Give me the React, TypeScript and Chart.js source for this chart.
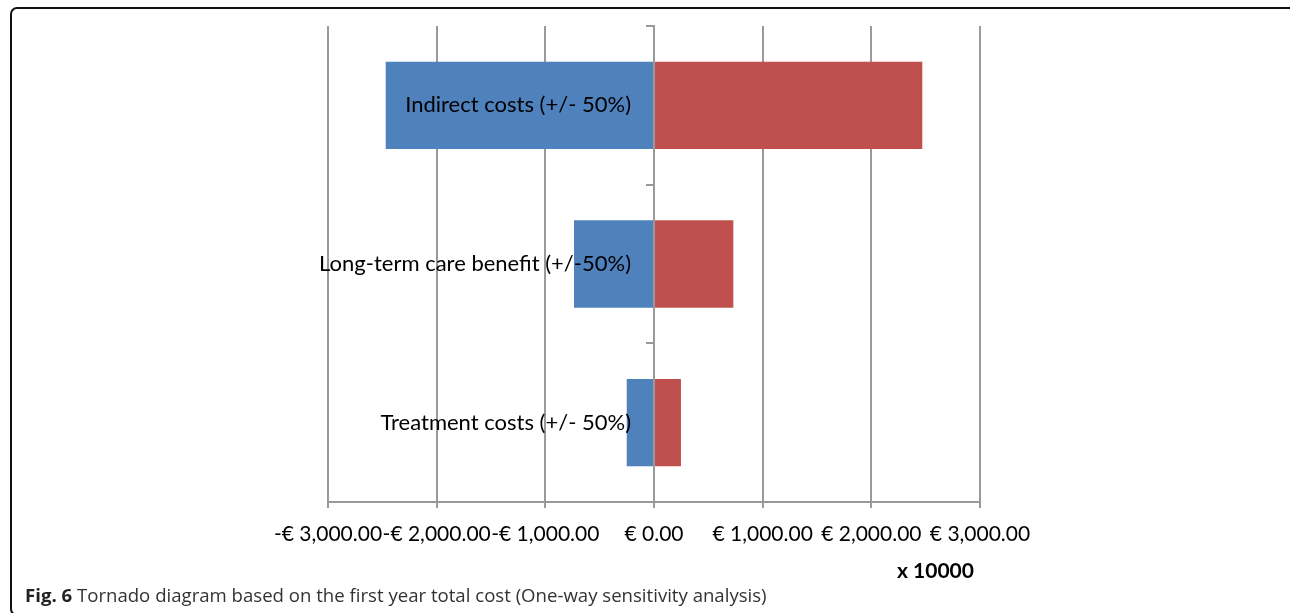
import React, { useEffect, useRef } from "react";
import { Chart, registerables } from "chart.js";

Chart.register(...registerables);

const categories = [
  "Indirect costs (+/- 50%)",
  "Long-term care benefit (+/-50%)",
  "Treatment costs (+/- 50%)",
];
const lowValues = [-2469, -736, -251];
const highValues = [2469, 730, 248];
const xMin = -3000;
const xMax = 3000;
const xStep = 1000;

const fmt = (v: number) => {
  const abs = Math.abs(v).toLocaleString("en-US", {
    minimumFractionDigits: 2,
    maximumFractionDigits: 2,
  });
  return (v < 0 ? "-€ " : "€ ") + abs;
};

const CHART_FONT = "Lato";
const GRID = "#9a9a9a";

const labelPlugin = {
  id: "catLabels",
  afterDatasetsDraw(chart: any) {
    const { ctx, scales } = chart;
    const x = scales.x;
    const y = scales.y;
    ctx.save();
    ctx.font = `22px ${CHART_FONT}`;
    ctx.fillStyle = "#000";
    ctx.textAlign = "right";
    ctx.textBaseline = "middle";
    categories.forEach((c, i) => {
      ctx.fillText(c, x.getPixelForValue(0) - 23, y.getPixelForValue(i));
    });
    ctx.restore();
  },
};

export default function App() {
  const ref = useRef<HTMLCanvasElement | null>(null);

  useEffect(() => {
    if (!ref.current) return;
    const chart = new Chart(ref.current, {
      type: "bar",
      data: {
        labels: categories,
        datasets: [
          {
            label: "Low",
            data: lowValues,
            backgroundColor: "#4F81BD",
            borderWidth: 0,
          },
          {
            label: "High",
            data: highValues,
            backgroundColor: "#C0504D",
            borderWidth: 0,
          },
        ],
      },
      options: {
        indexAxis: "y",
        animation: false,
        responsive: false,
        maintainAspectRatio: false,
        categoryPercentage: 1,
        barPercentage: 0.55,
        layout: { padding: { left: 328, right: 310, top: 26, bottom: 51 } },
        plugins: {
          legend: { display: false },
          tooltip: { enabled: false },
          title: { display: false },
        },
        scales: {
          x: {
            type: "linear",
            stacked: true,
            min: xMin,
            max: xMax,
            afterFit: (s: any) => {
              s.height = 60;
            },
            ticks: {
              stepSize: xStep,
              color: "#000",
              font: { family: CHART_FONT, size: 21 },
              padding: 14,
              maxRotation: 0,
              autoSkip: false,
              callback: (v: any) => fmt(Number(v)),
            },
            grid: {
              color: GRID,
              lineWidth: 2,
              drawTicks: true,
              tickLength: 6,
              tickColor: GRID,
            },
            border: { color: GRID, width: 2 },
          },
          y: {
            type: "category",
            stacked: true,
            position: { x: 0 } as any,
            z: 1,
            ticks: { display: false },
            grid: {
              offset: true,
              drawOnChartArea: false,
              drawTicks: true,
              tickLength: 7,
              color: GRID,
              tickColor: GRID,
              lineWidth: 2,
            },
            border: { color: GRID, width: 2 },
          },
        },
      },
      plugins: [labelPlugin],
    });
    return () => chart.destroy();
  }, []);

  return (
    <div
      style={{
        position: "absolute",
        left: 0,
        top: 0,
        width: 1290,
        height: 613,
        overflow: "hidden",
        background: "#fff",
      }}
    >
      <div
        style={{
          position: "absolute",
          left: 10,
          top: 7,
          width: 1300,
          height: 605,
          border: "2px solid #111",
          borderRadius: 7,
        }}
      />
      <canvas
        ref={ref}
        width={1290}
        height={613}
        style={{ position: "absolute", left: 0, top: 0, width: 1290, height: 613 }}
      />
      <div
        style={{
          position: "absolute",
          left: 897,
          top: 557,
          fontFamily: CHART_FONT,
          fontWeight: 700,
          fontSize: 21,
          color: "#000",
          lineHeight: "26px",
        }}
      >
        x 10000
      </div>
      <div
        style={{
          position: "absolute",
          left: 25,
          top: 583,
          fontFamily: "'Open Sans'",
          fontSize: 18.6,
          color: "#333",
          lineHeight: "24px",
          whiteSpace: "nowrap",
        }}
      >
        <b style={{ color: "#222" }}>Fig. 6</b> Tornado diagram based on the first year total cost (One-way sensitivity analysis)
      </div>
    </div>
  );
}
